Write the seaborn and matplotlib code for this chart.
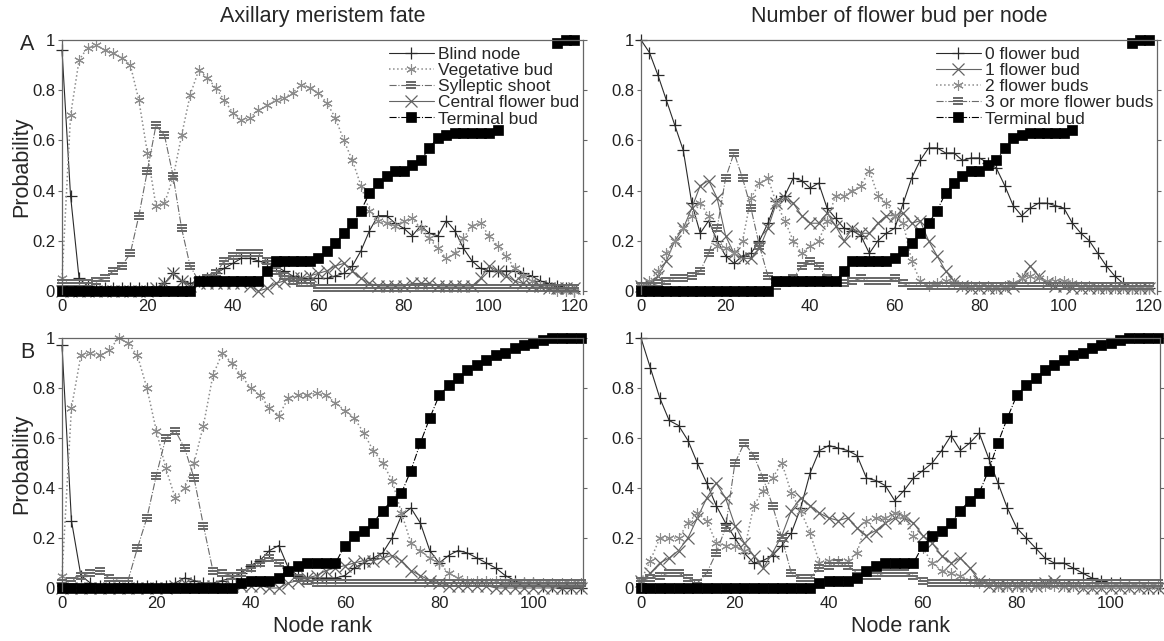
import numpy as np
import matplotlib
matplotlib.use("Agg")
import matplotlib.pyplot as plt
import seaborn as sns

nan = np.nan

# ---------------- data ----------------
node_top = np.arange(0, 121, 2)   # upper panels: node rank 0..120
node_bot = np.arange(0, 111, 2)   # lower panels: node rank 0..110

# Panel A left : axillary meristem fate
a_blind = [.96, .38, .05, .02, .01, .01, .01, .01, .01, .01,
           .01, .01, .03, .07, .04, .03, .04, .05, .07, .09,
           .11, .13, .13, .12, .11, .10, .08, .06, .05, .05,
           .05, .05, .06, .07, .10, .16, .24, .30, .30, .27,
           .25, .22, .26, .23, .22, .28, .24, .17, .12, .09,
           .08, .08, .08, .08, .07, .06, .04, .03, .02, .01,
           .00]
a_veg = [.05, .70, .92, .97, .98, .96, .95, .93, .90, .76,
         .55, .34, .35, .45, .62, .78, .88, .85, .81, .76,
         .71, .68, .69, .72, .74, .76, .77, .79, .82, .81,
         .79, .75, .69, .60, .52, .42, .32, .28, .27, .26,
         .28, .29, .25, .21, .17, .13, .15, .21, .26, .27,
         .22, .18, .14, .09, .06, .04, .02, .01, .00, .00,
         .00]
a_syl = [.03, .03, .03, .03, .04, .05, .08, .10, .15, .30,
         .48, .66, .62, .46, .25, .10, .04, .05, .07, .12,
         .14, .15, .15, .15, .12, .08, .06, .04, .03, .03,
         .01, .01, .01, .01, .01, .01, .01, .01, .01, .01,
         .01, .01, .01, .01, .01, .01, .01, .01, .01, .01,
         .01, .01, .01, .01, .01, .01, .01, .01, .01, .01,
         .01]
a_cen = [.00, .00, .00, .00, .00, .00, .00, .00, .00, .00,
         .00, .01, .03, .07, .04, .02, .03, .03, .03, .03,
         .03, .03, .02, .00, .01, .03, .04, .05, .05, .06,
         .07, .08, .10, .11, .08, .05, .03, .02, .02, .02,
         .02, .03, .03, .03, .02, .02, .02, .02, .02, .05,
         .10, .08, .06, .04, .03, .02, .02, .01, .01, .01,
         .01]
term_top = [0, 0, 0, 0, 0, 0, 0, 0, 0, 0,
            0, 0, 0, 0, 0, 0, .04, .04, .04, .04,
            .04, .04, .04, .04, .08, .12, .12, .12, .12, .12,
            .13, .16, .19, .23, .27, .32, .39, .43, .46, .48,
            .48, .50, .52, .57, .61, .62, .63, .63, .63, .63,
            .63, .64, nan, nan, nan, nan, nan, nan, .99, 1.0,
            1.0]

# Panel A right : number of flower buds per node
b_0 = [1.0, .95, .86, .76, .66, .56, .35, .23, .28, .20,
       .14, .11, .14, .15, .20, .27, .36, .38, .45, .44,
       .41, .43, .33, .29, .25, .24, .22, .15, .20, .23,
       .25, .35, .45, .52, .57, .57, .55, .55, .52, .53,
       .53, .51, .49, .42, .34, .30, .33, .35, .35, .34,
       .33, .27, .23, .20, .15, .10, .06, .03, .01, .01,
       .01]
b_1 = [.02, .03, .06, .12, .20, .25, .33, .42, .44, .37,
       .22, .15, .13, .13, .17, .25, .35, .37, .35, .30,
       .27, .27, .31, .26, .20, .25, .23, .23, .27, .30,
       .30, .31, .27, .28, .20, .14, .08, .04, .02, .01,
       .01, .01, .01, .01, .02, .05, .10, .06, .03, .02,
       .02, .01, .01, .01, .01, .01, .01, .01, .01, .01,
       .01]
b_2 = [.02, .04, .08, .15, .20, .25, .30, .35, .30, .18,
       .17, .15, .20, .37, .43, .45, .35, .28, .20, .15,
       .18, .20, .28, .38, .38, .40, .42, .48, .38, .35,
       .30, .27, .12, .04, .02, .03, .04, .03, .02, .02,
       .02, .02, .01, .02, .03, .05, .06, .05, .04, .04,
       .04, .03, .02, .02, .01, .01, .01, .01, .01, .01,
       .01]
b_3 = [.02, .02, .03, .04, .05, .05, .06, .08, .15, .25,
       .45, .55, .45, .33, .18, .06, .02, .03, .05, .10,
       .12, .10, .05, .04, .03, .04, .05, .04, .04, .04,
       .05, .03, .02, .02, .02, .02, .02, .02, .02, .02,
       .02, .02, .02, .02, .02, .02, .02, .02, .02, .02,
       .02, .02, .02, .02, .02, .02, .02, .02, .02, .02,
       .02]

# Panel B left : axillary meristem fate
c_blind = [.97, .27, .05, .02, .01, .01, .01, .01, .01, .01,
           .01, .01, .02, .04, .03, .02, .02, .03, .04, .06,
           .09, .11, .15, .17, .08, .05, .04, .04, .04, .04,
           .05, .08, .10, .12, .14, .20, .29, .32, .26, .15,
           .10, .13, .15, .14, .12, .10, .08, .05, .03, .02,
           .02, .01, .01, .00, .00, .00]
c_veg = [.05, .72, .93, .94, .93, .95, 1.0, .98, .93, .80,
         .63, .48, .36, .40, .50, .65, .85, .94, .90, .85,
         .80, .77, .72, .69, .76, .77, .77, .78, .77, .74,
         .71, .68, .62, .55, .50, .43, .30, .18, .15, .12,
         .10, .06, .04, .03, .03, .03, .03, .02, .02, .02,
         .02, .02, .02, .02, .02, .02]
c_syl = [.02, .03, .05, .06, .07, .04, .03, .03, .16, .28,
         .45, .60, .63, .56, .44, .25, .07, .06, .05, .06,
         .08, .10, .12, .10, .06, .04, .03, .02, .02, .02,
         .02, .02, .02, .02, .02, .02, .02, .02, .02, .02,
         .02, .02, .02, .02, .02, .02, .02, .02, .02, .02,
         .02, .02, .02, .02, .02, .02]
c_cen = [.00, .00, .00, .00, .00, .00, .00, .00, .00, .00,
         .00, .00, .01, .02, .01, .01, .01, .01, .01, .01,
         .01, .01, .00, .00, .02, .03, .04, .05, .07, .08,
         .09, .10, .11, .11, .12, .13, .11, .07, .05, .03,
         .02, .01, .01, .01, .01, .01, .00, .00, .00, .00,
         .00, .00, .00, .00, .00, .00]
term_bot = [0, 0, 0, 0, 0, 0, 0, 0, 0, 0,
            0, 0, 0, 0, 0, 0, 0, 0, 0, .02,
            .03, .03, .03, .04, .07, .09, .10, .10, .10, .10,
            .17, .21, .23, .26, .31, .35, .38, .47, .58, .68,
            .77, .81, .84, .87, .89, .91, .93, .94, .96, .97,
            .98, .99, 1.0, 1.0, 1.0, 1.0]

# Panel B right : number of flower buds per node
d_0 = [1.0, .88, .76, .67, .65, .59, .50, .42, .33, .26,
       .20, .14, .10, .11, .13, .17, .22, .32, .46, .55,
       .57, .56, .55, .53, .44, .43, .41, .35, .39, .44,
       .47, .50, .55, .61, .55, .58, .62, .52, .42, .32,
       .24, .20, .16, .12, .10, .10, .08, .06, .04, .03,
       .02, .02, .01, .01, .00, .00]
d_1 = [.03, .06, .10, .12, .15, .20, .28, .36, .42, .36,
       .25, .18, .13, .08, .14, .21, .31, .36, .33, .30,
       .28, .27, .28, .24, .21, .23, .26, .28, .28, .26,
       .21, .18, .13, .10, .12, .08, .03, .01, .01, .01,
       .01, .01, .01, .02, .03, .01, .01, .00, .00, .00,
       .00, .00, .00, .00, .00, .00]
d_2 = [.03, .11, .20, .20, .20, .26, .30, .27, .18, .17,
       .17, .15, .33, .39, .44, .50, .38, .31, .22, .10,
       .11, .11, .11, .14, .27, .28, .28, .30, .29, .21,
       .16, .10, .07, .06, .05, .03, .02, .02, .01, .01,
       .01, .01, .01, .01, .01, .01, .01, .01, .01, .01,
       .01, .01, .01, .01, .01, .01]
d_3 = [.03, .04, .05, .06, .06, .04, .02, .06, .14, .24,
       .50, .58, .53, .44, .33, .20, .06, .04, .04, .08,
       .09, .10, .09, .06, .05, .05, .06, .06, .06, .05,
       .03, .02, .02, .02, .02, .02, .02, .02, .02, .02,
       .02, .02, .02, .02, .02, .02, .02, .02, .02, .02,
       .02, .02, .02, .02, .02, .02]

fate_labels = ["Blind node", "Vegetative bud", "Sylleptic shoot",
               "Central flower bud", "Terminal bud"]
bud_labels = ["0 flower bud", "1 flower bud", "2 flower buds",
              "3 or more flower buds", "Terminal bud"]

# ---------------- styles ----------------
st_plus = dict(color="#2a2a2a", marker="+", markersize=8.5, markeredgewidth=0.9,
               markeredgecolor="#2a2a2a", linestyle="-", linewidth=0.8)
st_star = dict(color="#8c8c8c", marker=(6, 2, 0), markersize=7.5, markeredgewidth=0.8,
               markeredgecolor="#8c8c8c", linestyle=":", linewidth=1.1)
st_eq = dict(color="#6a6a6a", marker=r"$\equiv$", markersize=7.5, markeredgewidth=0.0,
             markeredgecolor="#6a6a6a", linestyle="-.", linewidth=0.8)
st_x = dict(color="#646464", marker="x", markersize=8.5, markeredgewidth=0.9,
            markeredgecolor="#646464", linestyle="-", linewidth=0.8)
st_sq = dict(color="black", marker="s", markersize=6.8, markeredgewidth=0.5,
             markeredgecolor="black", markerfacecolor="black",
             linestyle="-.", linewidth=0.8)

sns.set_style("white")
plt.rcParams["font.family"] = ["Liberation Sans", "DejaVu Sans"]

W, H = 1164, 641
fig = plt.figure(figsize=(W / 100, H / 100), dpi=100)


def add_axes(px_left, px_right, px_top, px_bottom):
    return fig.add_axes([px_left / W, 1 - px_bottom / H,
                         (px_right - px_left) / W, (px_bottom - px_top) / H])


ax_tl = add_axes(62, 583, 40, 293.5)
ax_tr = add_axes(641, 1157, 40, 293.5)
ax_bl = add_axes(62, 583, 338, 590.5)
ax_br = add_axes(641, 1160, 338, 590.5)


def segments(y):
    ok = ~np.isnan(y)
    runs, start = [], None
    for i, v in enumerate(ok):
        if v and start is None:
            start = i
        if (not v) and start is not None:
            runs.append((start, i))
            start = None
    if start is not None:
        runs.append((start, len(y)))
    return runs


def draw(ax, x, series, labels, styles, xmax, xticks):
    for vals, lab, st in zip(series, labels, styles):
        y = np.asarray(vals, dtype=float)
        for k, (s, e) in enumerate(segments(y)):
            sns.lineplot(x=x[s:e], y=y[s:e], ax=ax, estimator=None, sort=False,
                         label=(lab if k == 0 else None), clip_on=False, **st)
    ax.set_xlim(0, xmax)
    ax.set_ylim(-0.01, 1.0)
    ax.set_xticks(xticks)
    ax.set_xticklabels([str(t) for t in xticks])
    ax.set_yticks([0, 0.2, 0.4, 0.6, 0.8, 1.0])
    ax.set_yticklabels(["0", "0.2", "0.4", "0.6", "0.8", "1"])
    ax.tick_params(axis="x", length=0, labelsize=12, pad=4, colors="#222")
    ax.tick_params(axis="y", left=True, right=True, direction="out", length=3,
                   width=0.8, labelsize=12, pad=2, colors="#666", labelcolor="#222")
    for side in ("top", "left", "right"):
        ax.spines[side].set_visible(True)
        ax.spines[side].set_color("#666")
        ax.spines[side].set_linewidth(0.9)
    ax.spines["bottom"].set_visible(False)
    ax.set_xlabel("")
    ax.set_ylabel("")
    ax.legend(loc="upper right", bbox_to_anchor=(1.0, 0.985), frameon=False,
              fontsize=12.5, handlelength=2.6, labelspacing=0.05,
              handletextpad=0.25, borderaxespad=0.1, borderpad=0.1, numpoints=1)


styles = [st_plus, st_star, st_eq, st_x, st_sq]
styles_bud = [st_plus, st_x, st_star, st_eq, st_sq]

draw(ax_tl, node_top, [a_blind, a_veg, a_syl, a_cen, term_top], fate_labels,
     styles, 122, list(range(0, 121, 20)))
draw(ax_tr, node_top, [b_0, b_1, b_2, b_3, term_top], bud_labels,
     styles_bud, 122, list(range(0, 121, 20)))
draw(ax_bl, node_bot, [c_blind, c_veg, c_syl, c_cen, term_bot], fate_labels,
     styles, 110.5, list(range(0, 101, 20)))
draw(ax_br, node_bot, [d_0, d_1, d_2, d_3, term_bot], bud_labels,
     styles_bud, 110.5, list(range(0, 101, 20)))

# lower panels have no legend
ax_bl.get_legend().remove()
ax_br.get_legend().remove()

ax_tl.set_title("Axillary meristem fate", fontsize=15.5, pad=13)
ax_tr.set_title("Number of flower bud per node", fontsize=15.5, pad=13)

for ax in (ax_tl, ax_bl):
    ax.set_ylabel("Probability", fontsize=15.5)
    ax.yaxis.set_label_coords(-0.057, 0.5)
for ax in (ax_bl, ax_br):
    ax.set_xlabel("Node rank", fontsize=15.5)
    ax.xaxis.set_label_coords(0.5, -0.1)

fig.text(20 / W, 1 - 45 / H, "A", fontsize=15.5, ha="left", va="center")
fig.text(20 / W, 1 - 352 / H, "B", fontsize=15.5, ha="left", va="center")

fig.savefig("out.png", dpi=100)
